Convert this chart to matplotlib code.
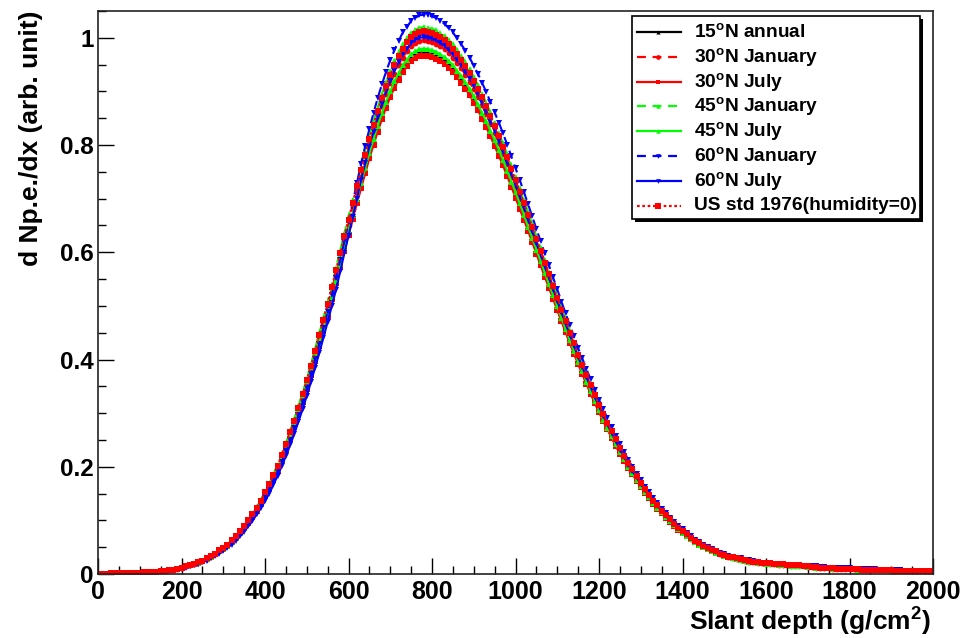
import numpy as np
import matplotlib
matplotlib.use("Agg")
import matplotlib.pyplot as plt
import matplotlib.font_manager as fm
from matplotlib.ticker import MultipleLocator
from matplotlib.lines import Line2D
from matplotlib.patches import Rectangle

# ---------------- data ----------------
depth = np.arange(10, 2001, 10)  # bin centres, g/cm^2 (10 ... 2000)

n15_annual = [
    0.000, 0.000, 0.001, 0.001, 0.001, 0.001, 0.001, 0.001, 0.002, 0.002,
    0.003, 0.003, 0.004, 0.004, 0.005, 0.006, 0.007, 0.008, 0.010, 0.012,
    0.014, 0.016, 0.018, 0.021, 0.024, 0.028, 0.032, 0.037, 0.042, 0.047,
    0.053, 0.060, 0.068, 0.077, 0.086, 0.096, 0.107, 0.119, 0.132, 0.146,
    0.161, 0.178, 0.195, 0.214, 0.233, 0.254, 0.276, 0.299, 0.323, 0.348,
    0.374, 0.401, 0.429, 0.457, 0.486, 0.516, 0.546, 0.577, 0.607, 0.637,
    0.667, 0.697, 0.725, 0.754, 0.781, 0.807, 0.832, 0.855, 0.877, 0.896,
    0.914, 0.930, 0.944, 0.955, 0.964, 0.970, 0.974, 0.975, 0.974, 0.972,
    0.969, 0.964, 0.959, 0.952, 0.944, 0.934, 0.924, 0.912, 0.900, 0.886,
    0.872, 0.856, 0.840, 0.823, 0.805, 0.787, 0.768, 0.748, 0.728, 0.708,
    0.687, 0.666, 0.645, 0.624, 0.602, 0.581, 0.559, 0.538, 0.517, 0.496,
    0.475, 0.455, 0.434, 0.414, 0.394, 0.375, 0.357, 0.339, 0.321, 0.304,
    0.287, 0.271, 0.256, 0.241, 0.226, 0.212, 0.199, 0.187, 0.175, 0.163,
    0.152, 0.142, 0.132, 0.123, 0.114, 0.106, 0.098, 0.090, 0.083, 0.077,
    0.071, 0.065, 0.060, 0.055, 0.051, 0.047, 0.043, 0.040, 0.037, 0.034,
    0.031, 0.029, 0.028, 0.026, 0.025, 0.023, 0.022, 0.021, 0.020, 0.019,
    0.019, 0.018, 0.017, 0.016, 0.016, 0.015, 0.015, 0.014, 0.014, 0.013,
    0.013, 0.012, 0.012, 0.011, 0.011, 0.010, 0.010, 0.010, 0.010, 0.009,
    0.009, 0.008, 0.008, 0.008, 0.008, 0.007, 0.007, 0.007, 0.007, 0.006,
    0.006, 0.006, 0.006, 0.006, 0.006, 0.005, 0.005, 0.005, 0.005, 0.005]

n30_january = [
    0.000, 0.000, 0.001, 0.001, 0.001, 0.001, 0.001, 0.001, 0.002, 0.002,
    0.003, 0.003, 0.004, 0.004, 0.005, 0.006, 0.007, 0.008, 0.010, 0.012,
    0.014, 0.016, 0.018, 0.021, 0.024, 0.028, 0.033, 0.038, 0.043, 0.048,
    0.054, 0.061, 0.069, 0.078, 0.088, 0.098, 0.109, 0.122, 0.135, 0.149,
    0.164, 0.181, 0.199, 0.218, 0.238, 0.260, 0.282, 0.306, 0.330, 0.356,
    0.382, 0.410, 0.438, 0.467, 0.496, 0.526, 0.557, 0.588, 0.619, 0.650,
    0.681, 0.711, 0.740, 0.769, 0.797, 0.824, 0.849, 0.873, 0.895, 0.915,
    0.933, 0.949, 0.963, 0.975, 0.984, 0.990, 0.994, 0.995, 0.994, 0.992,
    0.989, 0.984, 0.979, 0.971, 0.963, 0.953, 0.943, 0.931, 0.918, 0.904,
    0.890, 0.874, 0.857, 0.840, 0.822, 0.803, 0.784, 0.764, 0.743, 0.722,
    0.701, 0.680, 0.658, 0.636, 0.614, 0.592, 0.570, 0.549, 0.528, 0.507,
    0.485, 0.464, 0.443, 0.422, 0.402, 0.383, 0.364, 0.346, 0.328, 0.310,
    0.293, 0.277, 0.261, 0.246, 0.231, 0.217, 0.203, 0.191, 0.179, 0.167,
    0.155, 0.145, 0.135, 0.125, 0.116, 0.108, 0.100, 0.092, 0.085, 0.078,
    0.072, 0.066, 0.061, 0.056, 0.052, 0.048, 0.044, 0.041, 0.038, 0.035,
    0.032, 0.030, 0.028, 0.026, 0.025, 0.023, 0.022, 0.021, 0.020, 0.019,
    0.019, 0.018, 0.017, 0.016, 0.016, 0.015, 0.015, 0.014, 0.014, 0.013,
    0.013, 0.012, 0.012, 0.011, 0.011, 0.010, 0.010, 0.010, 0.010, 0.009,
    0.009, 0.008, 0.008, 0.008, 0.008, 0.007, 0.007, 0.007, 0.007, 0.006,
    0.006, 0.006, 0.006, 0.006, 0.006, 0.005, 0.005, 0.005, 0.005, 0.005]

n30_july = [
    0.000, 0.000, 0.001, 0.001, 0.001, 0.001, 0.001, 0.001, 0.002, 0.002,
    0.003, 0.003, 0.004, 0.004, 0.005, 0.006, 0.007, 0.008, 0.010, 0.012,
    0.014, 0.016, 0.018, 0.021, 0.024, 0.028, 0.032, 0.037, 0.042, 0.047,
    0.053, 0.060, 0.067, 0.076, 0.085, 0.095, 0.106, 0.118, 0.131, 0.145,
    0.160, 0.176, 0.193, 0.212, 0.231, 0.252, 0.274, 0.297, 0.320, 0.345,
    0.371, 0.398, 0.425, 0.453, 0.482, 0.512, 0.542, 0.572, 0.602, 0.632,
    0.662, 0.691, 0.719, 0.747, 0.775, 0.800, 0.825, 0.848, 0.870, 0.889,
    0.907, 0.922, 0.936, 0.947, 0.956, 0.962, 0.966, 0.967, 0.966, 0.964,
    0.961, 0.956, 0.951, 0.944, 0.936, 0.926, 0.916, 0.905, 0.893, 0.879,
    0.865, 0.849, 0.833, 0.816, 0.798, 0.780, 0.762, 0.742, 0.722, 0.702,
    0.681, 0.661, 0.640, 0.619, 0.597, 0.576, 0.554, 0.534, 0.513, 0.492,
    0.471, 0.451, 0.430, 0.411, 0.391, 0.373, 0.354, 0.336, 0.318, 0.302,
    0.285, 0.270, 0.254, 0.239, 0.224, 0.211, 0.197, 0.186, 0.174, 0.163,
    0.151, 0.141, 0.131, 0.122, 0.113, 0.105, 0.097, 0.090, 0.082, 0.076,
    0.070, 0.065, 0.060, 0.055, 0.051, 0.047, 0.043, 0.040, 0.037, 0.034,
    0.031, 0.029, 0.028, 0.026, 0.025, 0.023, 0.022, 0.021, 0.020, 0.019,
    0.019, 0.018, 0.017, 0.016, 0.016, 0.015, 0.015, 0.014, 0.014, 0.013,
    0.013, 0.012, 0.012, 0.011, 0.011, 0.010, 0.010, 0.010, 0.010, 0.009,
    0.009, 0.008, 0.008, 0.008, 0.008, 0.007, 0.007, 0.007, 0.007, 0.006,
    0.006, 0.006, 0.006, 0.006, 0.006, 0.005, 0.005, 0.005, 0.005, 0.005]

n45_january = [
    0.000, 0.000, 0.001, 0.001, 0.001, 0.001, 0.001, 0.001, 0.002, 0.002,
    0.003, 0.003, 0.004, 0.004, 0.005, 0.006, 0.007, 0.008, 0.010, 0.012,
    0.015, 0.017, 0.019, 0.022, 0.025, 0.029, 0.033, 0.038, 0.044, 0.049,
    0.055, 0.063, 0.071, 0.080, 0.090, 0.101, 0.112, 0.125, 0.138, 0.153,
    0.168, 0.186, 0.204, 0.224, 0.244, 0.266, 0.289, 0.313, 0.338, 0.364,
    0.391, 0.420, 0.449, 0.478, 0.508, 0.539, 0.571, 0.603, 0.635, 0.667,
    0.698, 0.728, 0.758, 0.788, 0.817, 0.844, 0.870, 0.895, 0.918, 0.938,
    0.956, 0.973, 0.988, 0.999, 1.009, 1.015, 1.019, 1.020, 1.019, 1.017,
    1.014, 1.009, 1.003, 0.996, 0.988, 0.978, 0.967, 0.955, 0.942, 0.927,
    0.912, 0.896, 0.879, 0.861, 0.842, 0.823, 0.803, 0.783, 0.762, 0.741,
    0.719, 0.697, 0.675, 0.653, 0.630, 0.608, 0.585, 0.563, 0.541, 0.519,
    0.497, 0.476, 0.454, 0.433, 0.412, 0.393, 0.373, 0.355, 0.336, 0.318,
    0.300, 0.284, 0.268, 0.252, 0.236, 0.222, 0.208, 0.196, 0.183, 0.171,
    0.159, 0.149, 0.138, 0.129, 0.119, 0.111, 0.103, 0.095, 0.087, 0.081,
    0.074, 0.069, 0.063, 0.058, 0.053, 0.049, 0.045, 0.042, 0.039, 0.036,
    0.032, 0.031, 0.029, 0.028, 0.026, 0.025, 0.023, 0.022, 0.021, 0.021,
    0.020, 0.019, 0.018, 0.018, 0.017, 0.017, 0.016, 0.016, 0.015, 0.015,
    0.014, 0.014, 0.013, 0.013, 0.012, 0.011, 0.010, 0.010, 0.010, 0.010,
    0.009, 0.009, 0.008, 0.008, 0.008, 0.008, 0.007, 0.007, 0.007, 0.007,
    0.006, 0.006, 0.006, 0.006, 0.006, 0.006, 0.005, 0.005, 0.005, 0.005]

n45_july = [
    0.000, 0.000, 0.001, 0.001, 0.001, 0.001, 0.001, 0.001, 0.002, 0.002,
    0.003, 0.003, 0.004, 0.004, 0.005, 0.006, 0.007, 0.008, 0.010, 0.012,
    0.014, 0.016, 0.018, 0.021, 0.024, 0.028, 0.032, 0.037, 0.042, 0.047,
    0.053, 0.060, 0.068, 0.077, 0.086, 0.097, 0.108, 0.120, 0.133, 0.147,
    0.162, 0.179, 0.196, 0.215, 0.234, 0.255, 0.277, 0.301, 0.325, 0.350,
    0.376, 0.403, 0.431, 0.459, 0.488, 0.518, 0.549, 0.579, 0.610, 0.640,
    0.670, 0.700, 0.729, 0.757, 0.785, 0.811, 0.836, 0.859, 0.881, 0.900,
    0.919, 0.934, 0.949, 0.959, 0.969, 0.975, 0.979, 0.980, 0.979, 0.977,
    0.974, 0.969, 0.964, 0.957, 0.949, 0.939, 0.929, 0.917, 0.905, 0.891,
    0.876, 0.860, 0.844, 0.827, 0.809, 0.791, 0.772, 0.752, 0.732, 0.712,
    0.691, 0.670, 0.648, 0.627, 0.605, 0.584, 0.562, 0.541, 0.520, 0.499,
    0.477, 0.457, 0.436, 0.416, 0.396, 0.378, 0.359, 0.341, 0.323, 0.306,
    0.288, 0.273, 0.257, 0.242, 0.227, 0.214, 0.200, 0.188, 0.176, 0.165,
    0.153, 0.143, 0.133, 0.124, 0.115, 0.107, 0.098, 0.091, 0.083, 0.077,
    0.071, 0.065, 0.060, 0.055, 0.051, 0.047, 0.043, 0.040, 0.037, 0.034,
    0.031, 0.029, 0.028, 0.026, 0.025, 0.023, 0.022, 0.021, 0.020, 0.019,
    0.019, 0.018, 0.017, 0.016, 0.016, 0.015, 0.015, 0.014, 0.014, 0.013,
    0.013, 0.012, 0.012, 0.011, 0.011, 0.010, 0.010, 0.010, 0.010, 0.009,
    0.009, 0.008, 0.008, 0.008, 0.008, 0.007, 0.007, 0.007, 0.007, 0.006,
    0.006, 0.006, 0.006, 0.006, 0.006, 0.005, 0.005, 0.005, 0.005, 0.005]

n60_january = [
    0.000, 0.000, 0.001, 0.001, 0.001, 0.001, 0.001, 0.001, 0.002, 0.002,
    0.003, 0.003, 0.004, 0.004, 0.005, 0.005, 0.006, 0.007, 0.009, 0.011,
    0.013, 0.015, 0.017, 0.019, 0.022, 0.026, 0.030, 0.035, 0.040, 0.045,
    0.051, 0.058, 0.065, 0.073, 0.082, 0.092, 0.103, 0.115, 0.128, 0.142,
    0.157, 0.173, 0.190, 0.209, 0.229, 0.250, 0.272, 0.296, 0.320, 0.346,
    0.373, 0.401, 0.429, 0.459, 0.489, 0.520, 0.552, 0.586, 0.620, 0.656,
    0.692, 0.729, 0.765, 0.798, 0.830, 0.860, 0.888, 0.913, 0.937, 0.958,
    0.977, 0.994, 1.010, 1.021, 1.031, 1.037, 1.042, 1.043, 1.042, 1.040,
    1.037, 1.032, 1.026, 1.018, 1.010, 0.999, 0.988, 0.976, 0.963, 0.948,
    0.933, 0.916, 0.899, 0.880, 0.861, 0.842, 0.822, 0.801, 0.779, 0.757,
    0.735, 0.713, 0.690, 0.667, 0.644, 0.621, 0.598, 0.576, 0.553, 0.531,
    0.508, 0.486, 0.464, 0.443, 0.421, 0.402, 0.382, 0.363, 0.343, 0.325,
    0.307, 0.291, 0.274, 0.258, 0.242, 0.228, 0.213, 0.200, 0.187, 0.175,
    0.163, 0.152, 0.141, 0.132, 0.122, 0.114, 0.105, 0.097, 0.089, 0.083,
    0.076, 0.070, 0.064, 0.060, 0.055, 0.051, 0.046, 0.043, 0.040, 0.037,
    0.033, 0.032, 0.030, 0.029, 0.027, 0.026, 0.024, 0.023, 0.021, 0.021,
    0.020, 0.019, 0.018, 0.018, 0.017, 0.017, 0.016, 0.016, 0.015, 0.015,
    0.014, 0.014, 0.013, 0.013, 0.012, 0.012, 0.011, 0.011, 0.011, 0.011,
    0.010, 0.010, 0.009, 0.009, 0.009, 0.009, 0.008, 0.008, 0.007, 0.007,
    0.007, 0.007, 0.006, 0.006, 0.006, 0.006, 0.006, 0.006, 0.005, 0.005]

n60_july = [
    0.000, 0.000, 0.001, 0.001, 0.001, 0.001, 0.001, 0.001, 0.002, 0.002,
    0.003, 0.003, 0.004, 0.004, 0.005, 0.005, 0.006, 0.007, 0.009, 0.010,
    0.012, 0.014, 0.016, 0.019, 0.022, 0.025, 0.029, 0.033, 0.038, 0.043,
    0.049, 0.055, 0.062, 0.070, 0.079, 0.089, 0.099, 0.111, 0.123, 0.136,
    0.150, 0.166, 0.183, 0.201, 0.220, 0.240, 0.261, 0.284, 0.307, 0.332,
    0.358, 0.385, 0.412, 0.441, 0.470, 0.500, 0.530, 0.564, 0.598, 0.631,
    0.665, 0.700, 0.735, 0.766, 0.797, 0.825, 0.852, 0.876, 0.900, 0.919,
    0.938, 0.954, 0.969, 0.980, 0.990, 0.996, 1.000, 1.001, 1.000, 0.998,
    0.995, 0.990, 0.985, 0.977, 0.969, 0.959, 0.949, 0.937, 0.924, 0.910,
    0.895, 0.879, 0.862, 0.845, 0.827, 0.808, 0.789, 0.768, 0.747, 0.726,
    0.705, 0.684, 0.662, 0.640, 0.618, 0.596, 0.574, 0.553, 0.531, 0.510,
    0.488, 0.467, 0.446, 0.426, 0.405, 0.386, 0.367, 0.349, 0.330, 0.313,
    0.295, 0.279, 0.263, 0.248, 0.232, 0.218, 0.204, 0.192, 0.180, 0.168,
    0.156, 0.146, 0.136, 0.127, 0.117, 0.109, 0.101, 0.093, 0.085, 0.079,
    0.073, 0.068, 0.062, 0.057, 0.052, 0.048, 0.044, 0.041, 0.038, 0.035,
    0.032, 0.031, 0.029, 0.028, 0.026, 0.025, 0.023, 0.022, 0.021, 0.021,
    0.020, 0.019, 0.018, 0.018, 0.017, 0.017, 0.016, 0.016, 0.015, 0.015,
    0.014, 0.014, 0.013, 0.013, 0.012, 0.012, 0.011, 0.011, 0.010, 0.010,
    0.010, 0.010, 0.009, 0.009, 0.008, 0.008, 0.008, 0.008, 0.007, 0.007,
    0.007, 0.007, 0.006, 0.006, 0.006, 0.006, 0.006, 0.006, 0.005, 0.005]

us_std_1976 = [
    0.000, 0.000, 0.001, 0.001, 0.001, 0.001, 0.001, 0.001, 0.002, 0.002,
    0.003, 0.003, 0.004, 0.004, 0.005, 0.006, 0.007, 0.008, 0.010, 0.012,
    0.015, 0.017, 0.019, 0.022, 0.025, 0.029, 0.033, 0.038, 0.044, 0.049,
    0.055, 0.063, 0.071, 0.080, 0.089, 0.100, 0.111, 0.124, 0.137, 0.152,
    0.167, 0.184, 0.202, 0.222, 0.242, 0.264, 0.286, 0.310, 0.335, 0.361,
    0.388, 0.416, 0.445, 0.474, 0.504, 0.535, 0.567, 0.598, 0.630, 0.661,
    0.692, 0.723, 0.753, 0.782, 0.811, 0.838, 0.864, 0.888, 0.910, 0.931,
    0.949, 0.966, 0.980, 0.992, 1.001, 1.007, 1.011, 1.012, 1.011, 1.009,
    1.006, 1.001, 0.995, 0.988, 0.980, 0.970, 0.959, 0.947, 0.934, 0.920,
    0.905, 0.889, 0.872, 0.854, 0.836, 0.817, 0.797, 0.777, 0.756, 0.735,
    0.713, 0.692, 0.670, 0.648, 0.625, 0.603, 0.580, 0.559, 0.537, 0.515,
    0.493, 0.472, 0.450, 0.430, 0.409, 0.390, 0.371, 0.352, 0.333, 0.316,
    0.298, 0.282, 0.266, 0.251, 0.235, 0.221, 0.207, 0.195, 0.182, 0.170,
    0.158, 0.148, 0.137, 0.128, 0.118, 0.110, 0.102, 0.094, 0.086, 0.080,
    0.074, 0.068, 0.062, 0.058, 0.053, 0.049, 0.045, 0.042, 0.038, 0.035,
    0.032, 0.031, 0.029, 0.028, 0.026, 0.025, 0.023, 0.022, 0.021, 0.021,
    0.020, 0.019, 0.018, 0.018, 0.017, 0.017, 0.016, 0.016, 0.015, 0.014,
    0.013, 0.013, 0.012, 0.012, 0.011, 0.011, 0.010, 0.010, 0.010, 0.010,
    0.009, 0.009, 0.008, 0.008, 0.008, 0.008, 0.007, 0.007, 0.007, 0.007,
    0.006, 0.006, 0.006, 0.006, 0.006, 0.006, 0.005, 0.005, 0.005, 0.005]

labels = [r"15$^{\rm o}$N annual", r"30$^{\rm o}$N January", r"30$^{\rm o}$N July",
          r"45$^{\rm o}$N January", r"45$^{\rm o}$N July", r"60$^{\rm o}$N January",
          r"60$^{\rm o}$N July", "US std 1976(humidity=0)"]
values = [n15_annual, n30_january, n30_july, n45_january, n45_july,
          n60_january, n60_july, us_std_1976]

xticks = [0, 200, 400, 600, 800, 1000, 1200, 1400, 1600, 1800, 2000]
yticks = [0, 0.2, 0.4, 0.6, 0.8, 1.0]
ytick_labels = ["0", "0.2", "0.4", "0.6", "0.8", "1"]

# ---------------- style ----------------
names = {f.name for f in fm.fontManager.ttflist}
base_font = "Liberation Sans" if "Liberation Sans" in names else "DejaVu Sans"
narrow_font = "Liberation Sans Narrow" if "Liberation Sans Narrow" in names else base_font

plt.rcParams["font.family"] = [base_font, "DejaVu Sans"]
plt.rcParams["font.weight"] = "bold"
plt.rcParams["mathtext.fontset"] = "custom"
plt.rcParams["mathtext.rm"] = base_font + ":bold"
plt.rcParams["mathtext.it"] = base_font + ":bold"
plt.rcParams["mathtext.bf"] = base_font + ":bold"

RED, GREEN, BLUE = "#ff0000", "#00ff00", "#0000ff"
dash = (0, (4, 3))
dot = (0, (1.2, 1.2))
styles = [
    dict(color="black", ls="-", marker="^", ms=3.8, lms=3.0),
    dict(color=RED, ls=dash, marker="o", ms=4.2, lms=3.4),
    dict(color=RED, ls="-", marker="s", ms=3.9, lms=3.2),
    dict(color=GREEN, ls=dash, marker="^", ms=4.2, lms=3.2),
    dict(color=GREEN, ls="-", marker="^", ms=4.2, lms=3.2),
    dict(color=BLUE, ls=dash, marker="v", ms=4.6, lms=3.4),
    dict(color=BLUE, ls="-", marker="v", ms=4.4, lms=3.4),
    dict(color=RED, ls=dot, marker="s", ms=5.0, lms=4.6),
]

W, H = 977, 638
fig = plt.figure(figsize=(W / 100, H / 100), dpi=100)
ax = fig.add_axes([98 / W, 1 - 574 / H, (933 - 98) / W, (574 - 11) / H])

for vals, st in zip(values, styles):
    ax.plot(depth, vals, color=st["color"], ls=st["ls"], lw=1.5,
            marker=st["marker"], ms=st["ms"], mec=st["color"], mfc=st["color"],
            mew=0)

ax.set_xlim(0, 2000)
ax.set_ylim(0, 1.05)
ax.set_xticks(xticks)
ax.set_xticklabels([str(t) for t in xticks], fontfamily=narrow_font,
                   fontweight="bold", fontsize=18)
ax.set_yticks(yticks)
ax.set_yticklabels(ytick_labels, fontfamily=base_font, fontweight="bold",
                   fontsize=17.5)
ax.xaxis.set_minor_locator(MultipleLocator(50))
ax.yaxis.set_minor_locator(MultipleLocator(0.05))
ax.tick_params(which="both", direction="in", top=False, right=False,
               width=1.0, color="black")
ax.tick_params(which="major", length=11.5)
ax.tick_params(which="minor", length=5.8)
ax.tick_params(axis="x", pad=4)
ax.tick_params(axis="y", pad=3)
for sp in ax.spines.values():
    sp.set_linewidth(1.2)
    sp.set_color("#222222")

def px(x, y):
    return x / W, 1 - y / H

# axis titles
fig.text(*px(931, 622), r"Slant depth (g/cm$^{\rm 2}$)", ha="right", va="center",
         fontsize=19, fontweight="bold")
fig.text(*px(31, 11), "d Np.e./dx (arb. unit)", ha="center", va="top",
         rotation=90, fontsize=19, fontweight="bold")

# legend (ROOT-like box with shadow)
bx0, by0, bx1, by1 = 632, 16, 920, 219
shadow = Rectangle(px(bx0 + 3, by1 + 3), (bx1 - bx0) / W, (by1 - by0) / H,
                   transform=fig.transFigure, facecolor="black",
                   edgecolor="black", lw=0, zorder=5)
box = Rectangle(px(bx0, by1), (bx1 - bx0) / W, (by1 - by0) / H,
                transform=fig.transFigure, facecolor="white",
                edgecolor="black", lw=1.2, zorder=6)
fig.add_artist(shadow)
fig.add_artist(box)
row0, drow = 32, 24.8
for k, (lab, st) in enumerate(zip(labels, styles)):
    y = row0 + k * drow
    (xa, ya), (xb, _) = px(637, y), px(681, y)
    fig.add_artist(Line2D([xa, xb], [ya, ya], transform=fig.transFigure,
                          color=st["color"], ls=st["ls"], lw=1.6, zorder=7))
    xm, _ = px(658, y)
    fig.add_artist(Line2D([xm], [ya], transform=fig.transFigure,
                          color=st["color"], ls="none", marker=st["marker"],
                          ms=st["lms"], mew=0, zorder=8))
    fig.text(*px(694, y), lab, ha="left", va="center", fontsize=13.8,
             fontweight="bold", zorder=9)

fig.savefig("out.png", dpi=100)
